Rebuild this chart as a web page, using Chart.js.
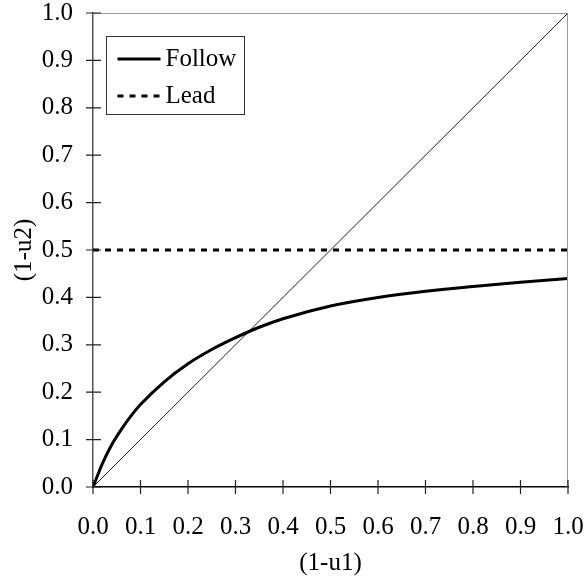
<!DOCTYPE html>
<html>
<head>
<meta charset="utf-8">
<script src="https://cdn.jsdelivr.net/npm/chart.js@4/dist/chart.umd.min.js"></script>
<style>
  html, body { margin: 0; padding: 0; background: #fff; }
  #chart { display: block; }
</style>
</head>
<body>
<canvas id="chart" width="587" height="578"></canvas>
<script>
// values
const followX = [0, 0.02, 0.04, 0.06, 0.08, 0.1, 0.15, 0.2, 0.25, 0.3, 0.35, 0.4, 0.5, 0.6, 0.7, 0.8, 0.9, 1.0];
const followY = [0, 0.05, 0.09, 0.122, 0.15, 0.174, 0.222, 0.26, 0.29, 0.315, 0.337, 0.355, 0.382, 0.4, 0.413, 0.423, 0.432, 0.44];
const leadX = [0, 1];
const leadY = [0.5, 0.5];
const diagX = [0, 1];
const diagY = [0, 1];
const seriesNames = ['Follow', 'Lead'];

const FONT = 'Liberation Serif, Times New Roman, serif';
const FONT_SIZE = 25;
const pts = (xs, ys) => xs.map((x, i) => ({ x, y: ys[i] }));

// ticks that cross the axis + grey top/right frame
const frame = {
  id: 'frame',
  afterDatasetsDraw(chart) {
    const { ctx, chartArea: a, scales } = chart;
    ctx.save();
    ctx.strokeStyle = '#999';
    ctx.lineWidth = 1;
    ctx.beginPath();
    ctx.moveTo(a.left, a.top + 0.5);
    ctx.lineTo(a.right - 0.5, a.top + 0.5);
    ctx.lineTo(a.right - 0.5, a.bottom);
    ctx.stroke();

    ctx.strokeStyle = '#222';
    ctx.lineWidth = 1.2;
    ctx.beginPath();
    scales.x.ticks.forEach(t => {
      const px = scales.x.getPixelForValue(t.value);
      ctx.moveTo(px, a.bottom - 7);
      ctx.lineTo(px, a.bottom + 7);
    });
    scales.y.ticks.forEach(t => {
      const py = scales.y.getPixelForValue(t.value);
      ctx.moveTo(a.left - 7, py);
      ctx.lineTo(a.left + 8, py);
    });
    ctx.stroke();
    ctx.restore();
  }
};

// boxed legend inside the plot, top left
const boxLegend = {
  id: 'boxLegend',
  afterDraw(chart) {
    const { ctx, chartArea: a } = chart;
    const x0 = a.left + 13.5, y0 = a.top + 23.5;
    ctx.save();
    ctx.fillStyle = '#fff';
    ctx.fillRect(x0, y0, 138, 78);
    ctx.strokeStyle = '#333';
    ctx.lineWidth = 1;
    ctx.strokeRect(x0, y0, 138, 78);
    ctx.font = FONT_SIZE + 'px ' + FONT;
    ctx.fillStyle = '#000';
    ctx.textBaseline = 'middle';
    seriesNames.forEach((name, i) => {
      const ds = chart.data.datasets.find(d => d.label === name);
      const y = y0 + 22.5 + i * 37;
      ctx.strokeStyle = ds.borderColor;
      ctx.lineWidth = ds.borderWidth;
      ctx.setLineDash(ds.borderDash || []);
      ctx.beginPath();
      ctx.moveTo(x0 + 11, y);
      ctx.lineTo(x0 + 54, y);
      ctx.stroke();
      ctx.setLineDash([]);
      ctx.fillText(name, x0 + 59, y);
    });
    ctx.restore();
  }
};

const axisTicks = {
  stepSize: 0.1,
  color: '#000',
  font: { family: FONT, size: FONT_SIZE },
  callback: v => Number(v).toFixed(1)
};

new Chart(document.getElementById('chart'), {
  type: 'line',
  data: {
    datasets: [
      {
        label: 'Follow',
        data: pts(followX, followY),
        borderColor: '#000',
        borderWidth: 3,
        pointRadius: 0,
        cubicInterpolationMode: 'monotone',
        fill: false
      },
      {
        label: 'Lead',
        data: pts(leadX, leadY),
        borderColor: '#000',
        borderWidth: 3,
        borderDash: [6, 6],
        pointRadius: 0,
        fill: false
      },
      {
        label: 'diagonal',
        data: pts(diagX, diagY),
        borderColor: '#222',
        borderWidth: 1,
        pointRadius: 0,
        fill: false
      }
    ]
  },
  options: {
    responsive: false,
    devicePixelRatio: 1,
    animation: false,
    layout: { padding: { top: 13, right: 19, left: 0, bottom: 0 } },
    plugins: {
      legend: { display: false },
      tooltip: { enabled: false }
    },
    scales: {
      x: {
        type: 'linear',
        min: 0,
        max: 1,
        grid: { display: false, drawTicks: false },
        border: { display: true, color: '#000', width: 1.5 },
        ticks: { ...axisTicks, padding: 25, maxRotation: 0 },
        title: {
          display: true,
          text: '(1-u1)',
          color: '#000',
          font: { family: FONT, size: FONT_SIZE },
          padding: { top: 0, bottom: 0 }
        },
        afterFit: s => { s.height = 91; s.paddingLeft = 0; s.paddingRight = 0; }
      },
      y: {
        type: 'linear',
        min: 0,
        max: 1,
        grid: { display: false, drawTicks: false },
        border: { display: true, color: '#555', width: 1.5 },
        ticks: { ...axisTicks, padding: 20 },
        title: {
          display: true,
          text: '(1-u2)',
          color: '#000',
          font: { family: FONT, size: FONT_SIZE },
          padding: { top: 9, bottom: 0 }
        },
        afterFit: s => { s.width = 93; s.paddingTop = 0; s.paddingBottom = 0; }
      }
    }
  },
  plugins: [frame, boxLegend]
});
</script>
</body>
</html>
